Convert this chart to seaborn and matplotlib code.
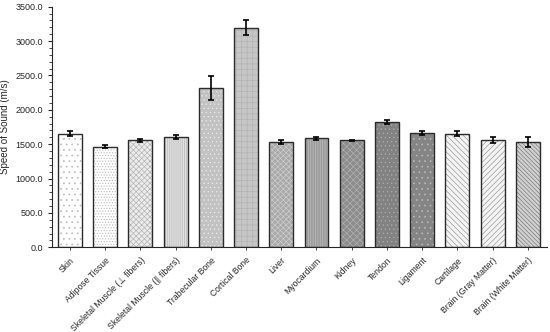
import numpy as np
import pandas as pd
import matplotlib
matplotlib.use("Agg")
import matplotlib.pyplot as plt
import seaborn as sns
from matplotlib.ticker import MultipleLocator, FormatStrFormatter

tejidos = ["Skin", "Adipose Tissue", "Skeletal Muscle (\u22a5 fibers)",
           "Skeletal Muscle (\u2225 fibers)", "Trabecular Bone", "Cortical Bone",
           "Liver", "Myocardium", "Kidney", "Tendon", "Ligament", "Cartilage",
           "Brain (Gray Matter)", "Brain (White Matter)"]
velocidad = [1650, 1465, 1556, 1600, 2320, 3195, 1535, 1585, 1556, 1822, 1662, 1652, 1556, 1535]
error = [35, 25, 20, 30, 175, 110, 30, 20, 12, 25, 35, 40, 45, 70]

rellenos = ["#ffffff", "#ffffff", "#ececec", "#e2e2e2", "#c2c2c2", "#c6c6c6", "#a9a9a9",
            "#9c9c9c", "#8c8c8c", "#828282", "#858585", "#f4f4f4", "#f4f4f4", "#d2d2d2"]
tramas = ["...", "......", "xxxxxx", "||||||||", "....", "+++", "xxxxxx", "|||||||", "xxxxx",
          "....", "...", "\\\\\\\\\\\\", "//////", "\\\\\\\\\\\\\\\\"]
color_trama = ["#bbbbbb", "#bbbbbb", "#b5b5b5", "#b5b5b5", "#e6e6e6", "#b3b3b3", "#cccccc",
               "#bcbcbc", "#b0b0b0", "#a8a8a8", "#b8b8b8", "#9a9a9a", "#9a9a9a", "#7a7a7a"]

df = pd.DataFrame({"tejido": tejidos, "vel": velocidad, "err": error})

sns.set_style("ticks")
plt.rcParams["font.family"] = ["Liberation Sans", "DejaVu Sans"]
plt.rcParams["hatch.linewidth"] = 0.5

fig, ax = plt.subplots(figsize=(5.5, 3.32), dpi=100)

# capa con tramas
sns.barplot(data=df, x="tejido", y="vel", errorbar=None, width=0.68, ax=ax)
for p, fc, h, hc in zip(ax.patches, rellenos, tramas, color_trama):
    p.set_facecolor(fc)
    p.set_hatch(h)
    p.set_edgecolor(hc)
    p.set_linewidth(0)
n = len(ax.patches)

# contorno
sns.barplot(data=df, x="tejido", y="vel", errorbar=None, width=0.68, ax=ax)
for p in ax.patches[n:]:
    p.set_facecolor("none")
    p.set_edgecolor("#2b2b2b")
    p.set_linewidth(1.0)

ax.errorbar(np.arange(len(tejidos)), df["vel"], yerr=df["err"], fmt="none",
            ecolor="black", elinewidth=1.2, capsize=2.5, capthick=1.2)

ax.set_ylim(0, 3500)
ax.set_xlim(-0.5, len(tejidos) - 0.45)
ax.yaxis.set_major_locator(MultipleLocator(500))
ax.yaxis.set_minor_locator(MultipleLocator(100))
ax.yaxis.set_major_formatter(FormatStrFormatter("%.1f"))
ax.tick_params(axis="y", labelsize=6.5, length=3, width=0.8)
ax.tick_params(axis="y", which="minor", length=2, width=0.6)
ax.tick_params(axis="x", labelsize=6.2, length=2.5, width=0.6)
plt.setp(ax.get_xticklabels(), rotation=45, ha="right", rotation_mode="anchor")
ax.set_xlabel("")
ax.set_ylabel("Speed of Sound (m/s)", fontsize=7)
for s in ["top", "right"]:
    ax.spines[s].set_visible(False)
ax.spines["left"].set_linewidth(0.8)
ax.spines["bottom"].set_linewidth(0.8)

fig.subplots_adjust(left=0.095, right=0.995, top=0.98, bottom=0.255)
fig.savefig("out.png", dpi=100)
